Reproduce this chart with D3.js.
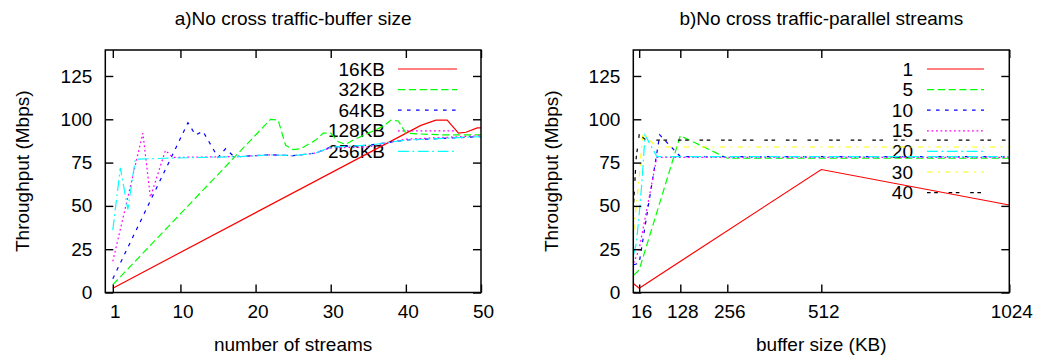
<!DOCTYPE html>
<html>
<head>
<meta charset="utf-8">
<script src="https://cdn.jsdelivr.net/npm/d3@7"></script>
<style>
body { margin: 0; background: #fff; }
text { font-family: "Liberation Sans", Arial, Helvetica, sans-serif; fill: #000; }
</style>
</head>
<body>
<svg id="chart" width="1038" height="358"></svg>
<script>
// a) throughput vs number of streams, one line per buffer size
const bufferNames = ["16KB", "32KB", "64KB", "128KB", "256KB"];
const buf16 = [[1,2.5],[42,96.5],[44,99.5],[45.5,99.5],[47,92],[48,92.5],[49.5,95],[50,95]];
const buf32 = [[1,4.5],[22,100],[23,99.5],[24,85],[25,82.5],[26,83],[28,88],[29,92],[30,92],[31,87],[32,85.5],[33,88],[35,92],[37,96],[38,99.5],[39,99],[40,92],[42,91.5],[45,91],[50,91]];
const buf64 = [[1,8],[11,98],[12,91],[13,93],[15,78],[16,83],[17,79],[18,78.5],[22,79.5],[25,79],[28,80.5],[30,84],[35,85],[40,88],[45,89],[50,90]];
const buf128 = [[1,18],[5,92],[6,55],[8,82],[9,78],[18,78.5],[22,79.5],[25,79],[28,80.5],[30,83.5],[35,84],[37,86],[40,88.5],[45,89.5],[50,90.5]];
const buf256 = [[1,36],[2,72],[3,48],[4,77],[8,77.5],[18,78.5],[22,79.5],[25,79],[28,80.5],[30,84],[35,85],[40,88],[45,89],[50,90]];
const streamTicks = [1, 10, 20, 30, 40, 50];

// b) throughput vs buffer size, one line per number of parallel streams
const streamNames = ["1", "5", "10", "15", "20", "30", "40"];
const par1 = [[1,5],[16,2.5],[512,71],[1024,50.5]];
const par5 = [[1,10],[16,13],[128,90.5],[256,77.5],[512,77.5],[1024,77.5]];
const par10 = [[1,16],[16,17],[72,91],[128,78.5],[256,78.5],[512,78.5],[1024,78.5]];
const par15 = [[1,17],[16,25],[64,78],[128,78],[256,78],[512,78],[1024,78]];
const par20 = [[1,22],[8,28],[16,45],[24,65],[32,91],[64,78.5],[128,78.5],[256,78.5],[512,78.5],[1024,78.5]];
const par30 = [[1,36],[16,66],[26,92],[64,84],[128,84],[256,84],[512,84],[1024,84]];
const par40 = [[1,52],[8,78],[16,91],[32,88.5],[64,88],[128,88],[256,88],[512,88],[1024,88]];
const bufferTicks = [16, 128, 256, 512, 1024];

const throughputTicks = [0, 25, 50, 75, 100, 125];

// gnuplot postscript line types
const colors = ["#ff0000", "#00ff00", "#0000ff", "#ff00ff", "#00ffff", "#ffff00", "#000000"];
const dashes = [null, "7.2,3.6", "3.6,5.4", "1.8,2.7", "10.8,3.6,1.8,3.6", "5.4,5.4,1.8,5.4", "3.6,3.6,3.6,10.8"];

const svg = d3.select("#chart");
const font = 19;
const plotTop = 50, plotBottom = 292.5;

function panel(cfg) {
    const x = d3.scaleLinear().domain(cfg.xDomain).range([cfg.left, cfg.right]);
    const y = d3.scaleLinear().domain([0, 140]).range([plotBottom, plotTop]);
    const g = svg.append("g");

    // legend first, data is drawn over it like in the original
    const leg = g.append("g");
    cfg.names.forEach((name, i) => {
        const ly = 69 + i * 20.6;
        leg.append("text")
            .attr("x", cfg.legendText).attr("y", ly).attr("dy", "0.35em")
            .attr("text-anchor", "end").attr("font-size", font)
            .text(name);
        leg.append("line")
            .attr("x1", cfg.legendLine[0]).attr("x2", cfg.legendLine[1])
            .attr("y1", ly).attr("y2", ly)
            .attr("stroke", colors[i]).attr("stroke-width", 1.2)
            .attr("stroke-dasharray", dashes[i]);
    });

    const line = d3.line().x(d => x(d[0])).y(d => y(d[1]));
    cfg.series.forEach((s, i) => {
        g.append("path")
            .attr("d", line(s))
            .attr("fill", "none")
            .attr("stroke", colors[i])
            .attr("stroke-width", 1.2)
            .attr("stroke-dasharray", dashes[i]);
    });

    const style = sel => {
        sel.select(".domain").remove();
        sel.attr("font-size", font).attr("font-family", null);
        sel.selectAll("line").attr("stroke-width", 1.4);
    };

    g.append("g").attr("transform", `translate(${cfg.left},0)`)
        .call(d3.axisLeft(y).tickValues(throughputTicks).tickSizeInner(-8).tickSizeOuter(0).tickPadding(13))
        .call(style);
    g.append("g").attr("transform", `translate(${cfg.right},0)`)
        .call(d3.axisLeft(y).tickValues(throughputTicks).tickSizeInner(8).tickSizeOuter(0).tickFormat(""))
        .call(style);
    g.append("g").attr("transform", `translate(0,${plotBottom})`)
        .call(d3.axisBottom(x).tickValues(cfg.xTicks).tickFormat(d3.format("d"))
            .tickSizeInner(-8).tickSizeOuter(0).tickPadding(12))
        .call(style)
        .selectAll("text").attr("dx", 2);
    g.append("g").attr("transform", `translate(0,${plotTop})`)
        .call(d3.axisBottom(x).tickValues(cfg.xTicks).tickSizeInner(8).tickSizeOuter(0).tickFormat(""))
        .call(style);

    g.append("rect")
        .attr("x", cfg.left).attr("y", plotTop)
        .attr("width", cfg.right - cfg.left).attr("height", plotBottom - plotTop)
        .attr("fill", "none").attr("stroke", "#000").attr("stroke-width", 1.5);

    const mid = (cfg.left + cfg.right) / 2;
    g.append("text").attr("x", mid).attr("y", 25)
        .attr("text-anchor", "middle").attr("font-size", font).text(cfg.title);
    g.append("text").attr("x", mid).attr("y", 351)
        .attr("text-anchor", "middle").attr("font-size", font).text(cfg.xLabel);
    g.append("text")
        .attr("transform", `translate(${cfg.yLabelX},${(plotTop + plotBottom) / 2}) rotate(-90)`)
        .attr("text-anchor", "middle").attr("font-size", font).text("Throughput (Mbps)");
}

panel({
    left: 105.3, right: 481, xDomain: [0, 50], xTicks: streamTicks,
    names: bufferNames, series: [buf16, buf32, buf64, buf128, buf256],
    legendText: 385, legendLine: [398, 457],
    title: "a)No cross traffic-buffer size", xLabel: "number of streams", yLabelX: 29
});

panel({
    left: 633.3, right: 1009.3, xDomain: [0, 1024], xTicks: bufferTicks,
    names: streamNames, series: [par1, par5, par10, par15, par20, par30, par40],
    legendText: 913, legendLine: [927, 984],
    title: "b)No cross traffic-parallel streams", xLabel: "buffer size (KB)", yLabelX: 558
});
</script>
</body>
</html>
